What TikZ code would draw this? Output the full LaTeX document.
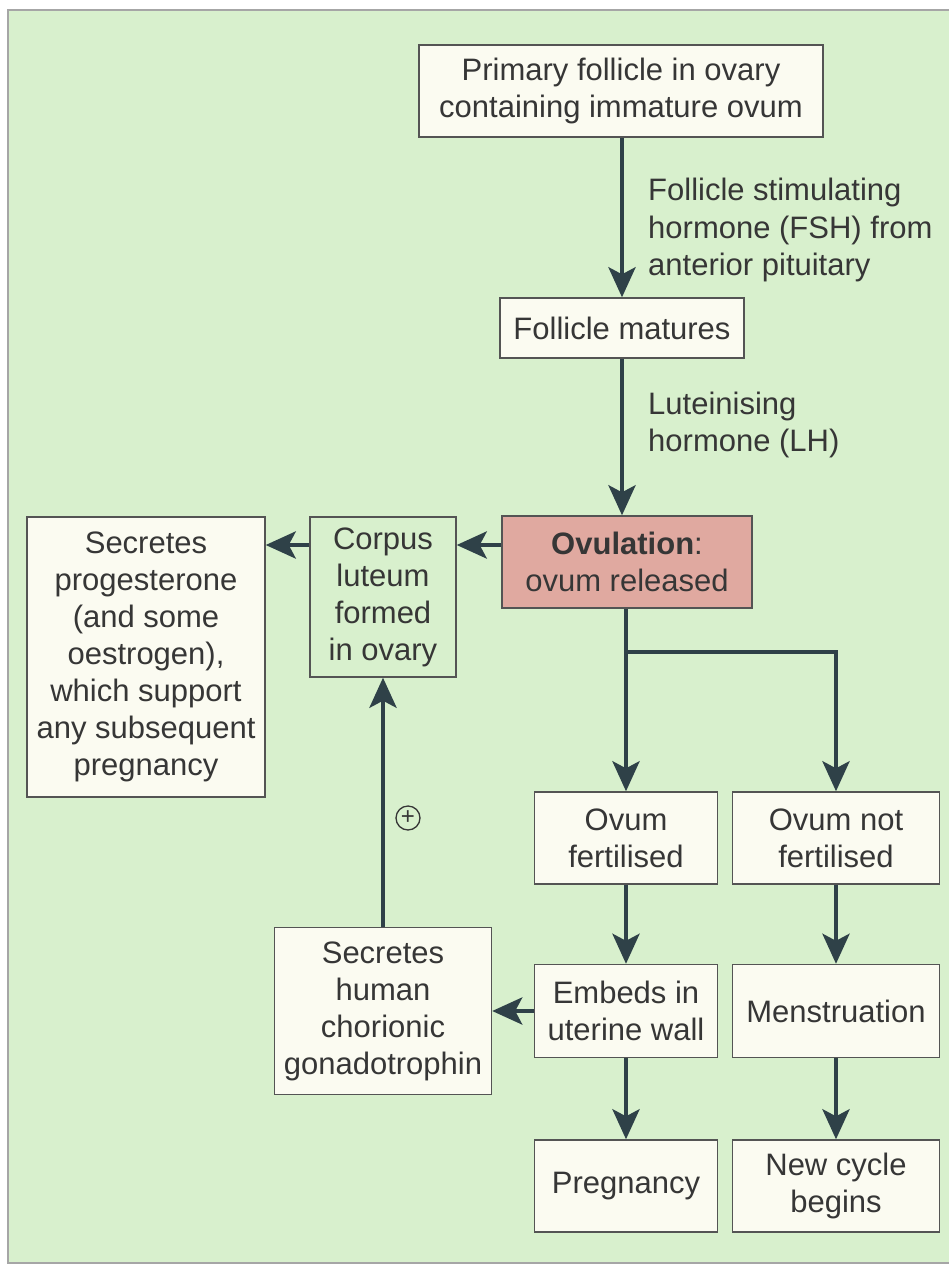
\documentclass[tikz,border=0pt]{standalone}
\usepackage{fontspec}
\setmainfont{Liberation Sans}
\usepackage{tikz}
\usetikzlibrary{arrows.meta}
\definecolor{bggreen}{HTML}{D8F0CD}
\definecolor{boxcream}{HTML}{FBFBF1}
\definecolor{ovpink}{HTML}{E0A9A0}
\definecolor{arrowslate}{HTML}{2F4148}
\definecolor{inkgrey}{HTML}{363636}
\tikzset{
  stage/.style = {align=center, inner sep=0pt, text centered, text=inkgrey,
    font=\fontsize{31}{37}\selectfont, draw=inkgrey!85, line width=1.4pt},
  bx/.style = {stage, rectangle, fill=boxcream},% cream box
  gbx/.style = {stage, rectangle},% box on the green
  hot/.style = {stage, rectangle, fill=ovpink},% ovulation box
  lbl/.style = {align=left, inner sep=0pt, text=inkgrey,
    font=\fontsize{31}{37.5}\selectfont},% hormone labels
  arr/.style = {draw=arrowslate, line width=4.5pt,
    -{Stealth[length=30pt,width=27pt,inset=7pt]}}
}

\begin{document}
\begin{tikzpicture}[x=1pt,y=-1pt]
\useasboundingbox (0,0) rectangle (949,1269);
\draw[fill=bggreen, draw=gray!70, line width=2pt] (8,10) rectangle (980,1263);

\node [bx, minimum width=404pt, minimum height=92pt] (prim) at (621,91)
  {Primary follicle in ovary\\containing immature ovum};
\node [bx, minimum width=244pt, minimum height=60pt] (mat) at (622,328)
  {Follicle matures};
\node [hot, minimum width=250pt, minimum height=92pt] (ovu) at (627,562)
  {\textbf{Ovulation}:\\ovum released};
\node [gbx, minimum width=146pt, minimum height=160pt] (corp) at (383,597)
  {Corpus\\luteum\\formed\\in ovary};
\node [bx, minimum width=238pt, minimum height=280pt] (prog) at (146,657)
  {Secretes\\progesterone\\(and some\\oestrogen),\\which support\\any subsequent\\pregnancy};
\node [bx, minimum width=183pt, minimum height=92pt] (fert) at (626,838)
  {Ovum\\fertilised};
\node [bx, minimum width=207pt, minimum height=92pt] (notf) at (836,838)
  {Ovum not\\fertilised};
\node [bx, minimum width=183pt, minimum height=93pt] (emb) at (626,1011)
  {Embeds in\\uterine wall};
\node [bx, minimum width=207pt, minimum height=93pt] (men) at (836,1011)
  {Menstruation};
\node [bx, minimum width=217pt, minimum height=167pt] (hcg) at (383,1011)
  {Secretes\\human\\chorionic\\gonadotrophin};
\node [bx, minimum width=183pt, minimum height=92pt] (preg) at (626,1186)
  {Pregnancy};
\node [bx, minimum width=207pt, minimum height=92pt] (newc) at (836,1186)
  {New cycle\\begins};

% hormone labels
\node [lbl, anchor=west] (fsh) at (648,230)
  {Follicle stimulating\\hormone (FSH) from\\anterior pituitary};
\node [lbl, anchor=west] (lh) at (648,425)
  {Luteinising\\hormone (LH)};

\coordinate (ya) at (0,545);
\coordinate (split) at (0,652);
\node [circle, draw=inkgrey, line width=1.3pt, inner sep=0pt, minimum size=24pt,
  font=\fontsize{24}{24}\selectfont, text=inkgrey] (plus) at (408,818) {+};

\draw[arr] (prim.south -| mat.north) -- (mat.north);
\draw[arr] (mat.south) -- (mat.south |- ovu.north);
\draw[arr] (ovu.west |- ya) -- (corp.east |- ya);
\draw[arr] (corp.west |- ya) -- (prog.east |- ya);
\draw[arr] (ovu.south -| fert.north) -- (fert.north);
\draw[arr] (fert.north |- split) -| (notf.north);
\draw[arr] (fert) -- (emb);
\draw[arr] (notf) -- (men);
\draw[arr] (emb) -- (preg);
\draw[arr] (men) -- (newc);
\draw[arr] (emb.west) -- (hcg.east);
\draw[arr] (hcg.north) -- (corp.south);
\end{tikzpicture}
\end{document}
